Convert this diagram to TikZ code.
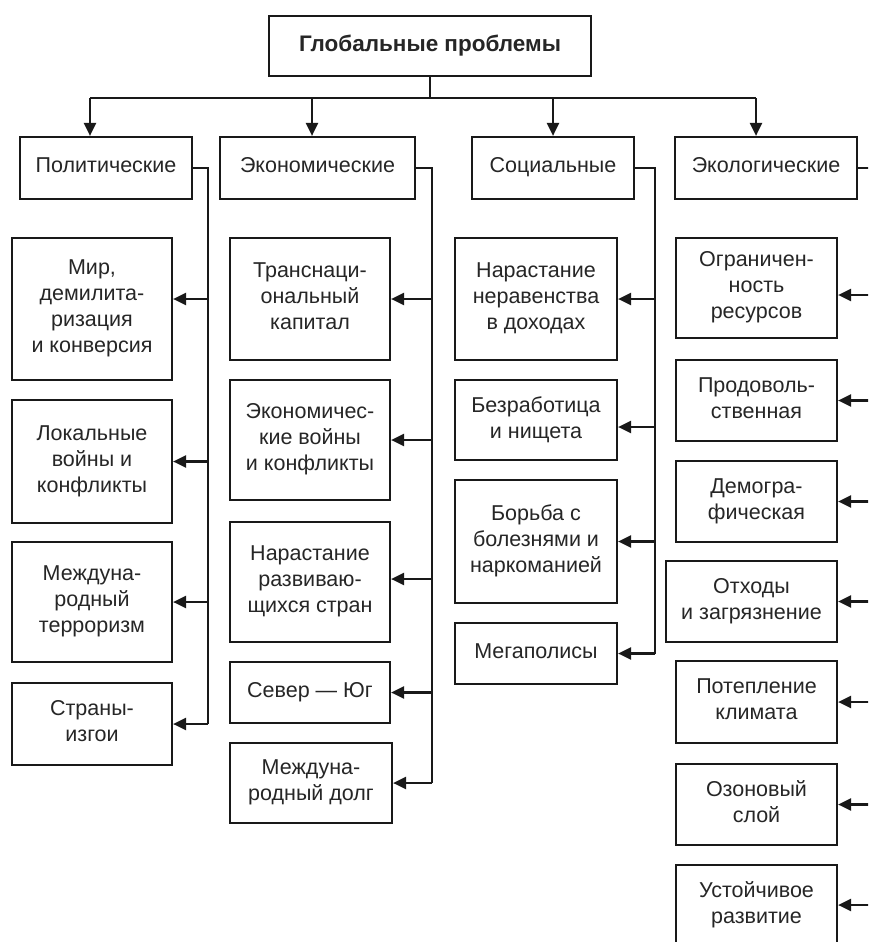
\documentclass[tikz,border=0pt]{standalone}
\usepackage{fontspec}
\setmainfont{Liberation Sans}
\usetikzlibrary{arrows.meta}
\newcommand{\bxstrut}{\rule[-5.5pt]{0pt}{20pt}}
\begin{document}
\begin{tikzpicture}[x=1pt,y=-1pt,
  box/.style={draw=black!90, line width=2.2pt, align=center, inner sep=0pt,
    font=\fontsize{21.5}{26}\selectfont, text=black!85,
    execute at begin node=\bxstrut, execute at end node=\bxstrut},
  arr/.style={draw=black!90, line width=2.2pt, -{Triangle[length=13pt,width=12pt]}},
  ln/.style={draw=black!90, line width=2.2pt}]
\clip (0,0) rectangle (868,942);
\fill[white] (0,0) rectangle (868,942);
% top
\node[box, minimum width=322pt, minimum height=60pt, font=\fontsize{22.5}{26}\selectfont\bfseries] (top) at (430,46) {Глобальные проблемы};
% categories
\node[box, minimum width=172pt, minimum height=62pt] (pol) at (106,168) {Политические};
\node[box, minimum width=195pt, minimum height=62pt] (eco) at (317.5,168) {Экономические};
\node[box, minimum width=162pt, minimum height=62pt] (soc) at (553,168) {Социальные};
\node[box, minimum width=182pt, minimum height=62pt] (ekl) at (766,168) {Экологические};
% political children
\node[box, minimum width=160pt, minimum height=142pt] (p1) at (92,309) {Мир,\\демилита-\\ризация\\и конверсия};
\node[box, minimum width=160pt, minimum height=123pt] (p2) at (92,461.5) {Локальные\\войны и\\конфликты};
\node[box, minimum width=160pt, minimum height=120pt] (p3) at (92,602) {Междуна-\\родный\\терроризм};
\node[box, minimum width=160pt, minimum height=82pt] (p4) at (92,724) {Страны-\\изгои};
% economic children
\node[box, minimum width=160pt, minimum height=122pt] (e1) at (310,299) {Транснаци-\\ональный\\капитал};
\node[box, minimum width=160pt, minimum height=120pt] (e2) at (310,440) {Экономичес-\\кие войны\\и конфликты};
\node[box, minimum width=160pt, minimum height=120pt] (e3) at (310,582) {Нарастание\\развиваю-\\щихся стран};
\node[box, minimum width=160pt, minimum height=61pt] (e4) at (310,692.5) {Север — Юг};
\node[box, minimum width=162pt, minimum height=80pt] (e5) at (311,783) {Междуна-\\родный долг};
% social children
\node[box, minimum width=162pt, minimum height=122pt] (s1) at (536,299) {Нарастание\\неравенства\\в доходах};
\node[box, minimum width=162pt, minimum height=80pt] (s2) at (536,420) {Безработица\\и нищета};
\node[box, minimum width=162pt, minimum height=123pt] (s3) at (536,541.5) {Борьба с\\болезнями и\\наркоманией};
\node[box, minimum width=162pt, minimum height=61pt] (s4) at (536,653.5) {Мегаполисы};
% ecological children
\node[box, minimum width=161pt, minimum height=100pt] (k1) at (756.5,288) {Ограничен-\\ность\\ресурсов};
\node[box, minimum width=161pt, minimum height=81pt] (k2) at (756.5,400.5) {Продоволь-\\ственная};
\node[box, minimum width=161pt, minimum height=81pt] (k3) at (756.5,501.5) {Демогра-\\фическая};
\node[box, minimum width=171pt, minimum height=81pt] (k4) at (751.5,601.5) {Отходы\\и загрязнение};
\node[box, minimum width=161pt, minimum height=82pt] (k5) at (756.5,702) {Потепление\\климата};
\node[box, minimum width=161pt, minimum height=81pt] (k6) at (756.5,804.5) {Озоновый\\слой};
\node[box, minimum width=161pt, minimum height=80pt] (k7) at (756.5,905) {Устойчивое\\развитие};
% bus from top
\draw[ln] (top.south) -- ++(0,21) coordinate (bus);
\coordinate (pa) at ([xshift=-16pt]pol.north);
\coordinate (ea) at ([xshift=-5.5pt]eco.north);
\coordinate (sa) at (soc.north);
\coordinate (ka) at ([xshift=-10pt]ekl.north);
\draw[ln] (pa |- bus) -- (ka |- bus);
\draw[arr] (pa |- bus) -- (pa);
\draw[arr] (ea |- bus) -- (ea);
\draw[arr] (sa |- bus) -- (sa);
\draw[arr] (ka |- bus) -- (ka);
% vertical lines
\coordinate (pv) at (208,0);
\coordinate (ev) at (432,0);
\coordinate (sv) at (655,0);
\coordinate (kv) at (872,0);
% political
\coordinate (p1a) at ([yshift=10pt]p1.east);
\draw[ln] (pol.east) -| (pv |- p4.east);
\foreach \n in {p1a,p2.east,p3.east,p4.east} \draw[arr] (pv |- \n) -- (\n);
% economic
\coordinate (e3a) at ([yshift=3pt]e3.east);
\draw[ln] (eco.east) -| (ev |- e5.east);
\foreach \n in {e1.east,e2.east,e3a,e4.east,e5.east} \draw[arr] (ev |- \n) -- (\n);
% social
\coordinate (s2a) at ([yshift=-7pt]s2.east);
\draw[ln] (soc.east) -| (sv |- s4.east);
\foreach \n in {s1.east,s2a,s3.east,s4.east} \draw[arr] (sv |- \n) -- (\n);
% ecological
\coordinate (k1a) at ([yshift=-7pt]k1.east);
\draw[ln] (ekl.east) -| (kv |- k7.east);
\foreach \n in {k1a,k2.east,k3.east,k4.east,k5.east,k6.east,k7.east} \draw[arr] (kv |- \n) -- (\n);
\end{tikzpicture}
\end{document}
